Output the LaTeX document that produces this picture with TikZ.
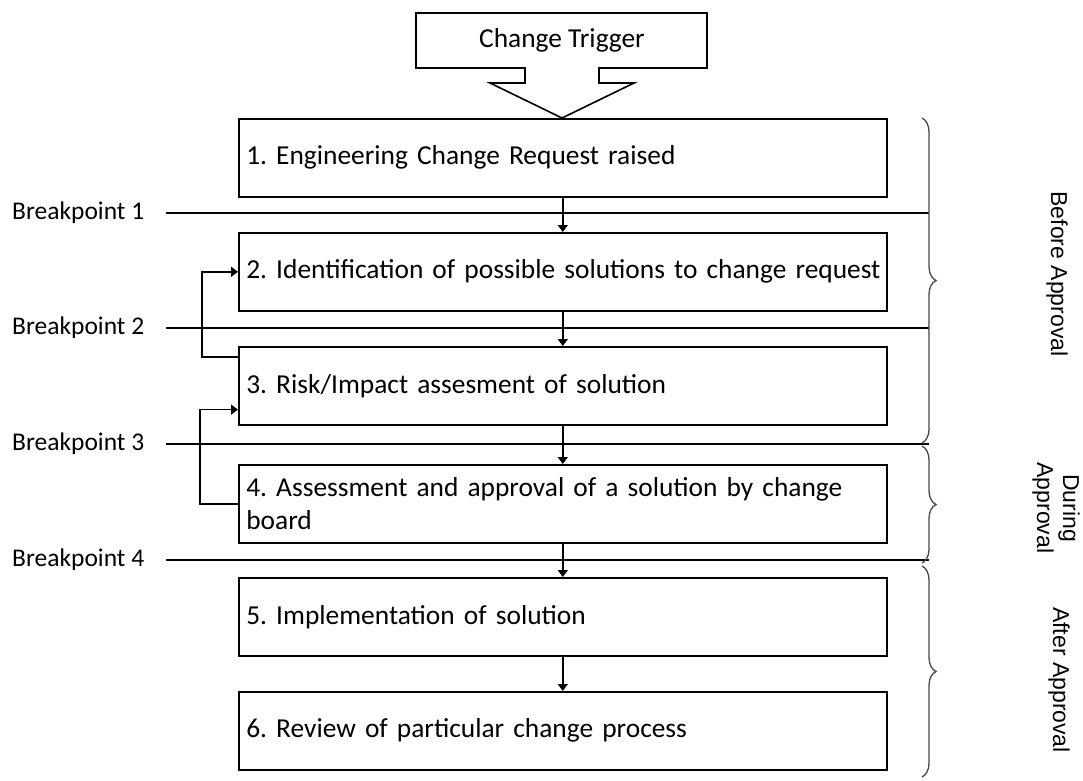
\documentclass[tikz,border=0pt]{standalone}
\usepackage{fontspec}
\setmainfont{Carlito}
\newfontfamily\phasefont{Liberation Sans}
\usetikzlibrary{decorations.pathreplacing,arrows.meta}
\begin{document}
\frenchspacing
\begin{tikzpicture}[x=1pt,y=-1pt,
  boxfont/.style={font=\fontsize{27.4}{33}\selectfont},
  stepbox/.style={boxfont,draw,line width=1.6pt,minimum width=648pt,minimum height=78pt,
    text width=633pt,inner xsep=7.5pt,inner ysep=0pt,align=left,anchor=north west},
  flow/.style={line width=1.5pt,-{Triangle[width=10pt,length=7pt]}},
  bpline/.style={line width=1.5pt},
  bplabel/.style={font=\fontsize{25.5}{30}\selectfont,anchor=west,inner sep=0pt},
  phase/.style={decorate,decoration={brace,amplitude=14pt},line width=1.3pt,draw=black!72},
  phaselabel/.style={font=\phasefont\fontsize{23}{26}\selectfont,rotate=-90,align=center,inner sep=0pt}]
\useasboundingbox (0,0) rectangle (1083,780);

% trigger arrow
\draw[line width=1.6pt,line join=miter]
  (416,13) -- (707,13) -- (707,68) -- (599,68) -- (599,83) -- (634,83)
  -- (562,118) -- (490,83) -- (525,83) -- (525,68) -- (416,68) -- cycle;
\node[boxfont] (trig) at (562,40) {Change Trigger};

% process steps
\node[stepbox] (s1) at (238,118) {\mbox{1. Engineering Change Request raised}};
\node[stepbox] (s2) at (238,232) {\mbox{2. Identification of possible solutions to change request}};
\node[stepbox] (s3) at (238,346) {\mbox{3. Risk/Impact assesment of solution}};
\node[stepbox] (s4) at (238,464) {4. Assessment and approval of a solution by change\\board};
\node[stepbox] (s5) at (238,577) {\mbox{5. Implementation of solution}};
\node[stepbox] (s6) at (238,691) {\mbox{6. Review of particular change process}};

% breakpoints
\foreach \i/\y in {1/213,2/328,3/444,4/560}{
  \node[bplabel] (bp\i) at (12,\y) {Breakpoint \i};
  \coordinate (bpa\i) at (166,\y);
  \coordinate (bpb\i) at (929,\y);
  \draw[bpline] (bpa\i) -- (bpb\i);
}

% forward flow
\draw[flow] (s1.south) -- (s2.north);
\draw[flow] (s2.south) -- (s3.north);
\draw[flow] (s3.south) -- (s4.north);
\draw[flow] (s4.south) -- (s5.north);
\draw[flow] (s5.south) -- (s6.north);

% feedback loops
\draw[flow] ([yshift=-11pt]s3.north west) -- ++(-36,0) |- (s2.west);
\draw[flow] (s4.west) -- ++(-38,0) |- ([yshift=16pt]s3.south west);

% phases
\draw[phase] (922,118) -- (922,443);
\draw[phase] (922,446) -- (922,563);
\draw[phase] (922,566) -- (922,777);
\node[phaselabel] (pb) at (1057,274) {Before Approval};
\node[phaselabel] (pd) at (1056,508) {During\\Approval};
\node[phaselabel] (pa) at (1059,680) {After Approval};
\end{tikzpicture}
\end{document}
